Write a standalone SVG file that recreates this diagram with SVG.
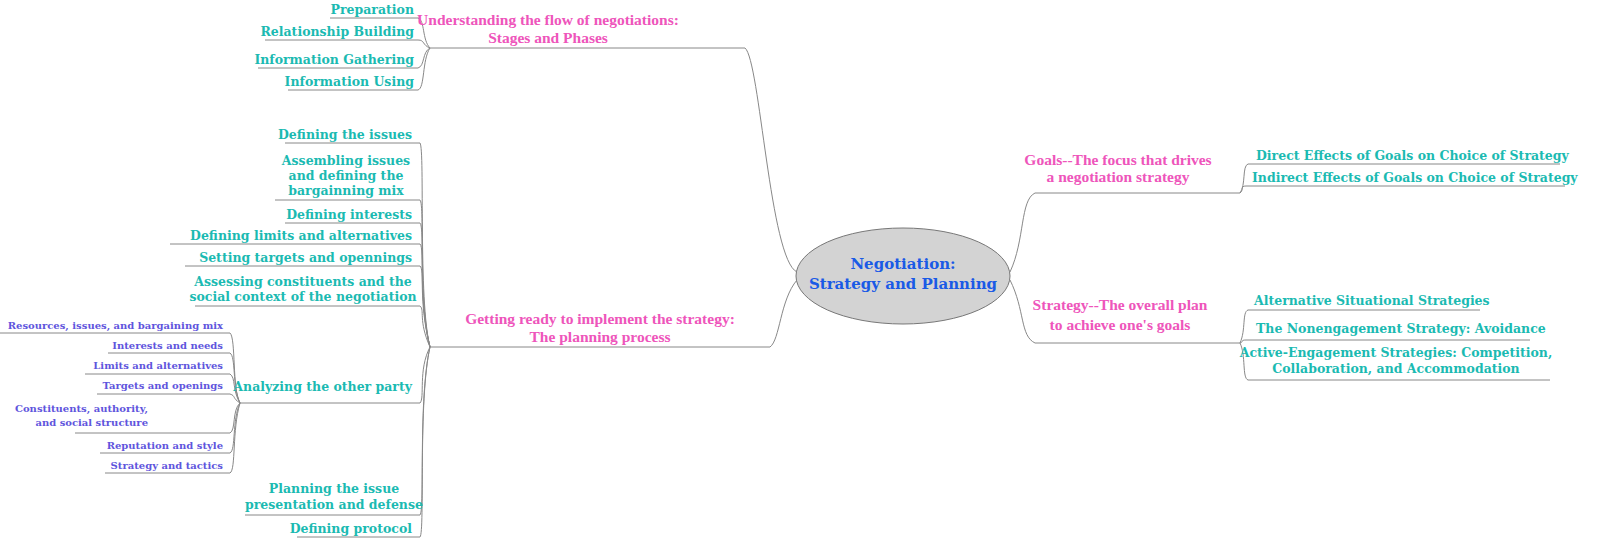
<svg xmlns="http://www.w3.org/2000/svg" width="1600" height="538" viewBox="0 0 1600 538">
<style>
text{font-family:"DejaVu Serif","Liberation Serif",serif;font-weight:bold}
.p{fill:#ee55bb;font-size:15.5px;text-anchor:middle;font-family:"Liberation Serif",serif}
.t{fill:#1bbab2;font-size:12.5px}
.r{fill:#1bbab2;font-size:12.5px;text-anchor:end}
.v{fill:#6055dd;font-size:10px;text-anchor:end}
.c{fill:#1a5ae6;font-size:15px;text-anchor:middle}
.l{fill:none;stroke:#888;stroke-width:1}
</style>
<rect width="1600" height="538" fill="#fff"/>
<g id="connectors" class="l">
<path d="M797,272 C770,260 760,60 745,48 H430"/>
<path d="M797,280 C780,300 780,340 770,347 H430"/>
<path d="M1010,272 C1025,240 1020,200 1035,193 H1240"/>
<path d="M1010,280 C1025,310 1020,336 1035,343 H1240"/>
<path d="M430,48 C422,40 425,20 418,18 H330"/>
<path d="M430,48 C422,45 425,40 418,40 H265"/>
<path d="M430,48 C422,52 425,66 418,68 H258"/>
<path d="M430,48 C422,60 425,88 418,90 H288"/>
<path d="M430,347 C418,300 425,150 420,143 H285"/>
<path d="M430,347 C418,300 425,205 420,200 H275"/>
<path d="M430,347 C418,300 425,228 420,223 H285"/>
<path d="M430,347 C418,300 425,248 420,244 H170"/>
<path d="M430,347 C418,300 425,270 420,266 H185"/>
<path d="M430,347 C418,320 425,310 420,306 H195"/>
<path d="M430,347 C418,370 425,398 420,403 H240"/>
<path d="M430,347 C418,400 425,510 420,515 H245"/>
<path d="M430,347 C418,400 425,532 420,537 H297"/>
<path d="M240,403 C232,390 236,338 230,333 H0"/>
<path d="M240,403 C232,385 236,357 230,353 H108"/>
<path d="M240,403 C232,390 236,378 230,374 H85"/>
<path d="M240,403 C232,398 236,396 230,394 H97"/>
<path d="M240,403 C232,410 236,430 230,433 H75"/>
<path d="M240,403 C232,420 236,450 230,453 H100"/>
<path d="M240,403 C232,430 236,470 230,473 H105"/>
<path d="M1240,193 C1246,185 1242,166 1248,164 H1560"/>
<path d="M1240,193 C1244,190 1240,186 1246,186 H1565"/>
<path d="M1240,343 C1246,330 1242,312 1248,310 H1480"/>
<path d="M1240,343 C1244,342 1240,340 1246,340 H1530"/>
<path d="M1240,343 C1246,355 1242,378 1248,380 H1550"/>
</g>
<g id="center"><ellipse cx="903" cy="276" rx="107" ry="48" fill="#d3d3d3" stroke="#777"/>
<text class="c" x="903" y="269">Negotiation:</text><text class="c" x="903" y="289">Strategy and Planning</text></g>
<g id="flow"><text class="p" x="548" y="25">Understanding the flow of negotiations:</text><text class="p" x="548" y="43">Stages and Phases</text></g>
<g id="prep"><text class="r" x="414" y="14">Preparation</text></g>
<g id="rel"><text class="r" x="414" y="36">Relationship Building</text></g>
<g id="gath"><text class="r" x="414" y="64">Information Gathering</text></g>
<g id="using"><text class="r" x="414" y="86">Information Using</text></g>
<g id="ready"><text class="p" x="600" y="324">Getting ready to implement the strategy:</text><text class="p" x="600" y="342">The planning process</text></g>
<g id="n1"><text class="r" x="412" y="139">Defining the issues</text></g>
<g id="n2"><text class="t" x="346" y="165" text-anchor="middle">Assembling issues</text><text class="t" x="346" y="180" text-anchor="middle">and defining the</text><text class="t" x="346" y="195" text-anchor="middle">bargainning mix</text></g>
<g id="n3"><text class="r" x="412" y="219">Defining interests</text></g>
<g id="n4"><text class="r" x="412" y="240">Defining limits and alternatives</text></g>
<g id="n5"><text class="r" x="412" y="262">Setting targets and opennings</text></g>
<g id="n6"><text class="t" x="303" y="286" text-anchor="middle">Assessing constituents and the</text><text class="t" x="303" y="301" text-anchor="middle">social context of the negotiation</text></g>
<g id="n7"><text class="r" x="412" y="391">Analyzing the other party</text></g>
<g id="n8"><text class="t" x="334" y="493" text-anchor="middle">Planning the issue</text><text class="t" x="334" y="509" text-anchor="middle">presentation and defense</text></g>
<g id="n9"><text class="r" x="412" y="533">Defining protocol</text></g>
<g id="a1"><text class="v" x="223" y="329">Resources, issues, and bargaining mix</text></g>
<g id="a2"><text class="v" x="223" y="349">Interests and needs</text></g>
<g id="a3"><text class="v" x="223" y="369">Limits and alternatives</text></g>
<g id="a4"><text class="v" x="223" y="389">Targets and openings</text></g>
<g id="a5"><text class="v" x="148" y="412" text-anchor="middle">Constituents, authority,</text><text class="v" x="148" y="426" text-anchor="middle">and social structure</text></g>
<g id="a6"><text class="v" x="223" y="449">Reputation and style</text></g>
<g id="a7"><text class="v" x="223" y="469">Strategy and tactics</text></g>
<g id="goals"><text class="p" x="1118" y="165">Goals--The focus that drives</text><text class="p" x="1118" y="182">a negotiation strategy</text></g>
<g id="g1"><text class="t" x="1256" y="160">Direct Effects of Goals on Choice of Strategy</text></g>
<g id="g2"><text class="t" x="1252" y="182">Indirect Effects of Goals on Choice of Strategy</text></g>
<g id="strat"><text class="p" x="1120" y="310">Strategy--The overall plan</text><text class="p" x="1120" y="330">to achieve one's goals</text></g>
<g id="s1"><text class="t" x="1254" y="305">Alternative Situational Strategies</text></g>
<g id="s2"><text class="t" x="1256" y="333">The Nonengagement Strategy: Avoidance</text></g>
<g id="s3"><text class="t" x="1396" y="357" text-anchor="middle">Active-Engagement Strategies: Competition,</text><text class="t" x="1396" y="373" text-anchor="middle">Collaboration, and Accommodation</text></g>
</svg>
